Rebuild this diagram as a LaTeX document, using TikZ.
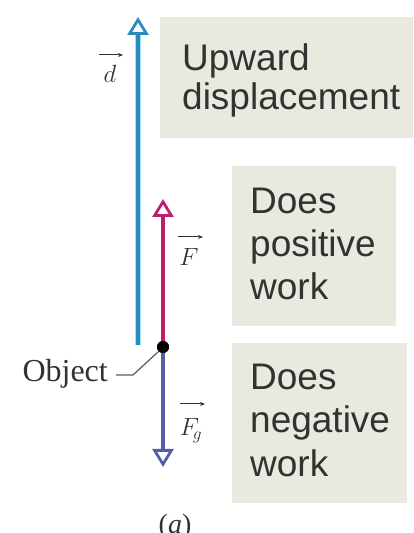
\documentclass[tikz,border=0pt]{standalone}
\usepackage{fontspec}
\setmainfont{Liberation Serif}
\newfontfamily\boxfont{Liberation Sans}
\usetikzlibrary{arrows.meta}
\definecolor{dblue}{RGB}{40,140,190}
\definecolor{dhalo}{RGB}{160,225,245}
\definecolor{fpink}{RGB}{190,30,110}
\definecolor{fgblue}{RGB}{85,95,165}
\definecolor{boxfill}{RGB}{233,233,224}
\definecolor{txt}{RGB}{50,50,50}
\tikzset{
  vec/.style={line width=4pt, -{Triangle[open, length=18pt, width=21pt, line width=2.8pt]}},
  panel/.style={fill=boxfill, draw=none, inner sep=0pt, anchor=north west},
  boxtext/.style={anchor=base west, inner sep=0pt, text=txt, font=\boxfont\fontsize{37}{40}\selectfont},
  veclabel/.style={inner sep=0pt, text=txt, font=\fontsize{26}{28}\selectfont},
  overarrow/.style={line width=1pt, txt, -{Stealth[length=5pt, width=4pt]}},
}
\begin{document}
\begin{tikzpicture}[x=1pt,y=1pt]
\useasboundingbox (0,0) rectangle (413,533);
% panels
\node[panel, minimum width=253pt, minimum height=121pt] (p1) at (160,516) {};
\node[panel, minimum width=164pt, minimum height=160pt] (p2) at (232,367) {};
\node[panel, minimum width=175pt, minimum height=160pt] (p3) at (232,190) {};
\node[boxtext] (t1a) at (182,462) {Upward};
\node[boxtext] (t1b) at (182,423) {displacement};
\node[boxtext] (t2a) at (250,319) {Does};
\node[boxtext] (t2b) at (250,276) {positive};
\node[boxtext] (t2c) at (250,233) {work};
\node[boxtext] (t3a) at (250,143) {Does};
\node[boxtext] (t3b) at (250,100) {negative};
\node[boxtext] (t3c) at (250,56) {work};
% object and vectors
\coordinate (dtail) at (138,188);
\coordinate (dtip) at (138,516);
\draw[line width=6.5pt, dhalo, shorten >=16pt] (dtail) -- (dtip);
\draw[vec, dblue] (dtail) -- (dtip);
\node[circle, fill=black, inner sep=0pt, minimum size=12pt] (obj) at (163,186) {};
\coordinate (ftip) at (163,334);
\coordinate (fgtip) at (163,66);
\draw[vec, fpink] (obj.center) -- (ftip);
\draw[vec, fgblue] (obj.center) -- (fgtip);
\node[circle, fill=black, inner sep=0pt, minimum size=12pt] (obj2) at (obj) {};
% vector labels
\node[veclabel, anchor=base] (ld) at (110,450) {$d$};
\coordinate (ldA) at (99,478); \coordinate (ldB) at (123,478);
\draw[overarrow] (ldA) -- (ldB);
\node[veclabel, anchor=base] (lf) at (189,267) {$F$};
\coordinate (lfA) at (178,296); \coordinate (lfB) at (203,296);
\draw[overarrow] (lfA) -- (lfB);
\node[veclabel, anchor=base] (lfg) at (191,97) {$F_{\!g}$};
\coordinate (lfgA) at (180,129); \coordinate (lfgB) at (205,129);
\draw[overarrow] (lfgA) -- (lfgB);
% object label
\node[anchor=base east, inner sep=0pt, text=txt, font=\fontsize{32}{34}\selectfont] (lobj) at (108,151) {Object};
\coordinate (bend) at (133,158);
\draw[line width=1.2pt, txt!80] (lobj.east |- bend) ++(8pt,0) -- (bend) -- (obj2.south west);
\node[anchor=base, inner sep=0pt, text=txt, font=\fontsize{28}{30}\selectfont] (lab) at (175,-1) {(\textit{a})};
\end{tikzpicture}
\end{document}
